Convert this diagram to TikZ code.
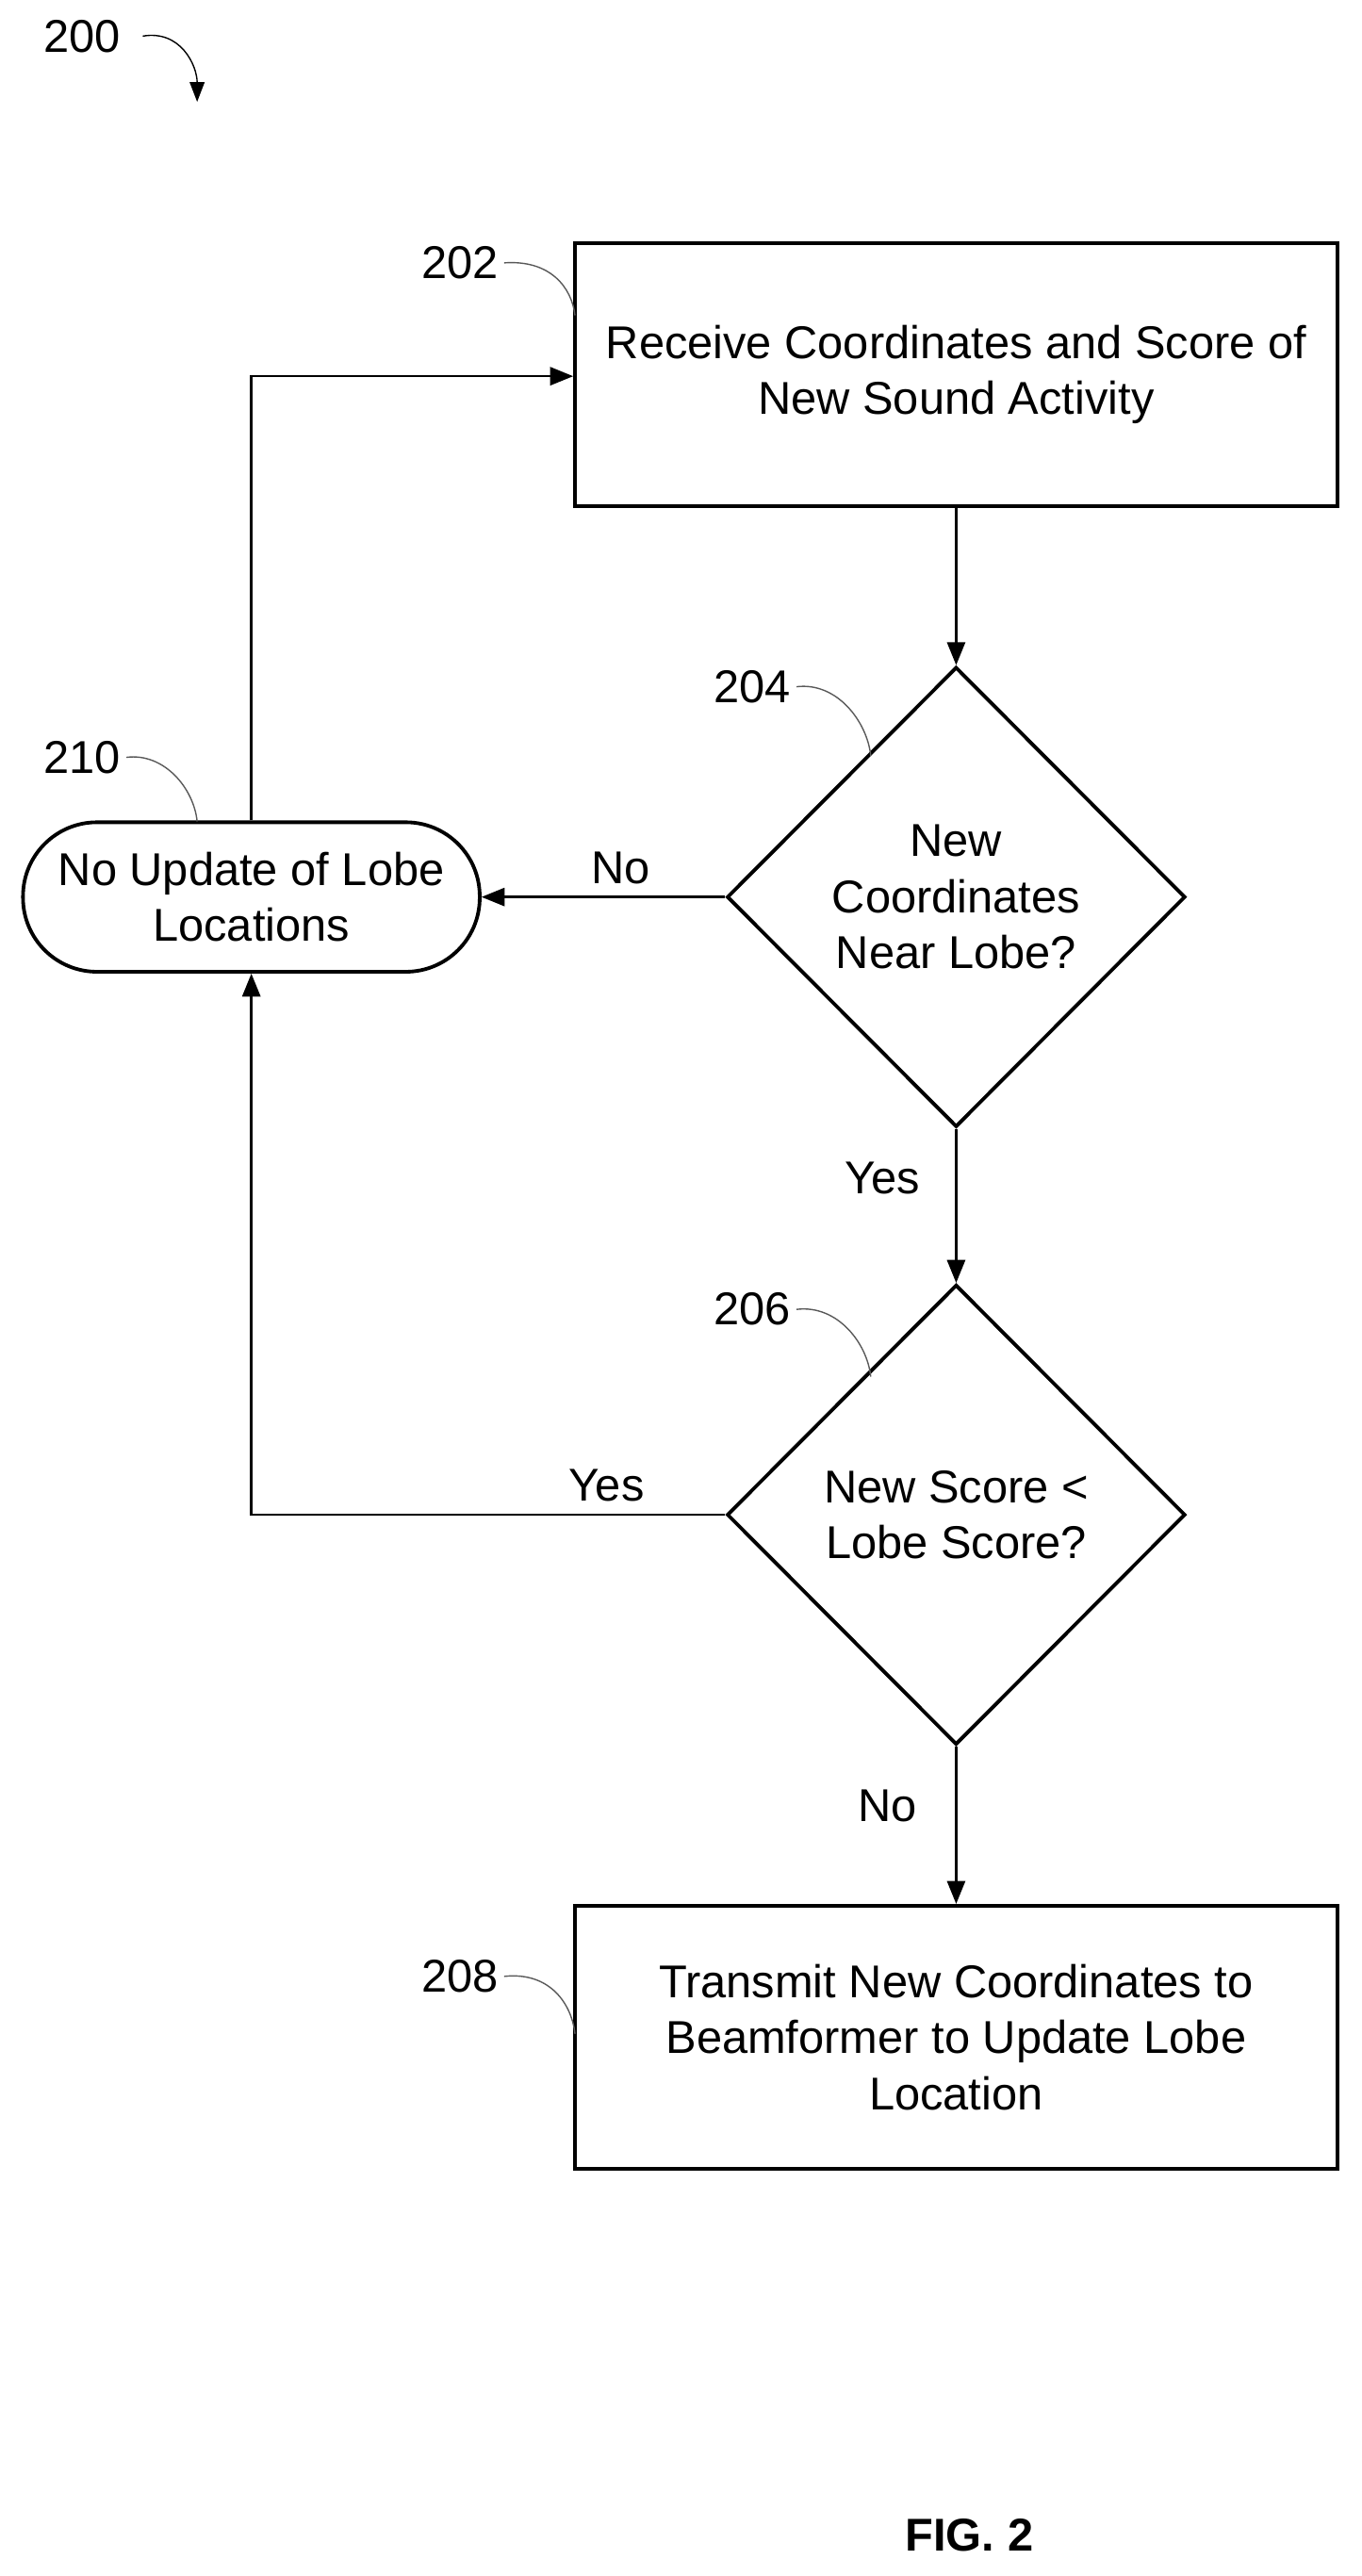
\documentclass[tikz,border=0pt]{standalone}
\usepackage{fontspec}
\setmainfont{Liberation Sans}
\usetikzlibrary{shapes.geometric,arrows.meta}
\begin{document}
\begin{tikzpicture}[x=1pt,y=-1pt,
  every node/.style={font=\fontsize{28}{34}\selectfont},
  box/.style={draw,line width=2.2pt,minimum width=464pt,minimum height=160pt,align=center,inner sep=0},
  dia/.style={draw,line width=2.2pt,diamond,minimum width=279pt,minimum height=280pt,align=center,inner sep=0},
  term/.style={draw,line width=2.2pt,rounded corners=45pt,minimum width=278pt,minimum height=91pt,align=center,inner sep=0},
  arr/.style={line width=1.4pt,-{Triangle[length=14pt,width=11pt]}},
  lead/.style={line width=0.8pt,gray!70!black}]
\useasboundingbox (0,0) rectangle (829,1568);
\node[box] (b202) at (582,228) {Receive Coordinates and Score of\\New Sound Activity};
\node[dia] (d204) at (582,546) {New\\Coordinates\\Near Lobe?};
\node[dia] (d206) at (582,922) {New Score <\\Lobe Score?};
\node[box] (b208) at (582,1240) {Transmit New Coordinates to\\Beamformer to Update Lobe\\Location};
\node[term] (t210) at (153,546) {No Update of Lobe\\Locations};
\coordinate (c1) at (153,922);
\coordinate (c2) at (153,229);
\draw[arr] (b202) -- (d204);
\draw[arr] (d204.west) -- (t210.east) node[pos=0.43,above=4pt] (lno) {No};
\draw[arr] (d204.south) -- (d206.north) node[pos=0.32,left=18pt] (lyes) {Yes};
\draw[arr] (d206.south) -- (b208.north) node[pos=0.38,left=20pt] (lno2) {No};
\draw[arr] (d206.west) -- (c1) node[pos=0.25,above=4pt] (lyes2) {Yes} -- (t210.south);
\draw[arr] (t210.north) -- (c2) -- (b202.west |- c2);
\node (n202) at (280,160) {202};
\node (n204) at (458,418) {204};
\node (n206) at (458,797) {206};
\node (n210) at (50,461) {210};
\node (n208) at (280,1203) {208};
\node (n200) at (50,22) {200};
\draw[lead] (n202.east) .. controls (335,158) and (348,175) .. (350,192);
\draw[lead] (n204.east) .. controls (510,415) and (528,440) .. (530,460);
\draw[lead] (n206.east) .. controls (510,794) and (528,818) .. (530,838);
\draw[lead] (n210.east) .. controls (100,458) and (118,480) .. (120,500);
\draw[lead] (n208.east) .. controls (335,1200) and (348,1220) .. (350,1238);
\draw[lead,-{Triangle[length=12pt,width=9pt]},black] (n200.east) ++(10,0) .. controls (110,18) and (120,40) .. (120,62);
\node[font=\bfseries\fontsize{28}{32}\selectfont] (fig) at (590,1543) {FIG. 2};
\end{tikzpicture}
\end{document}
